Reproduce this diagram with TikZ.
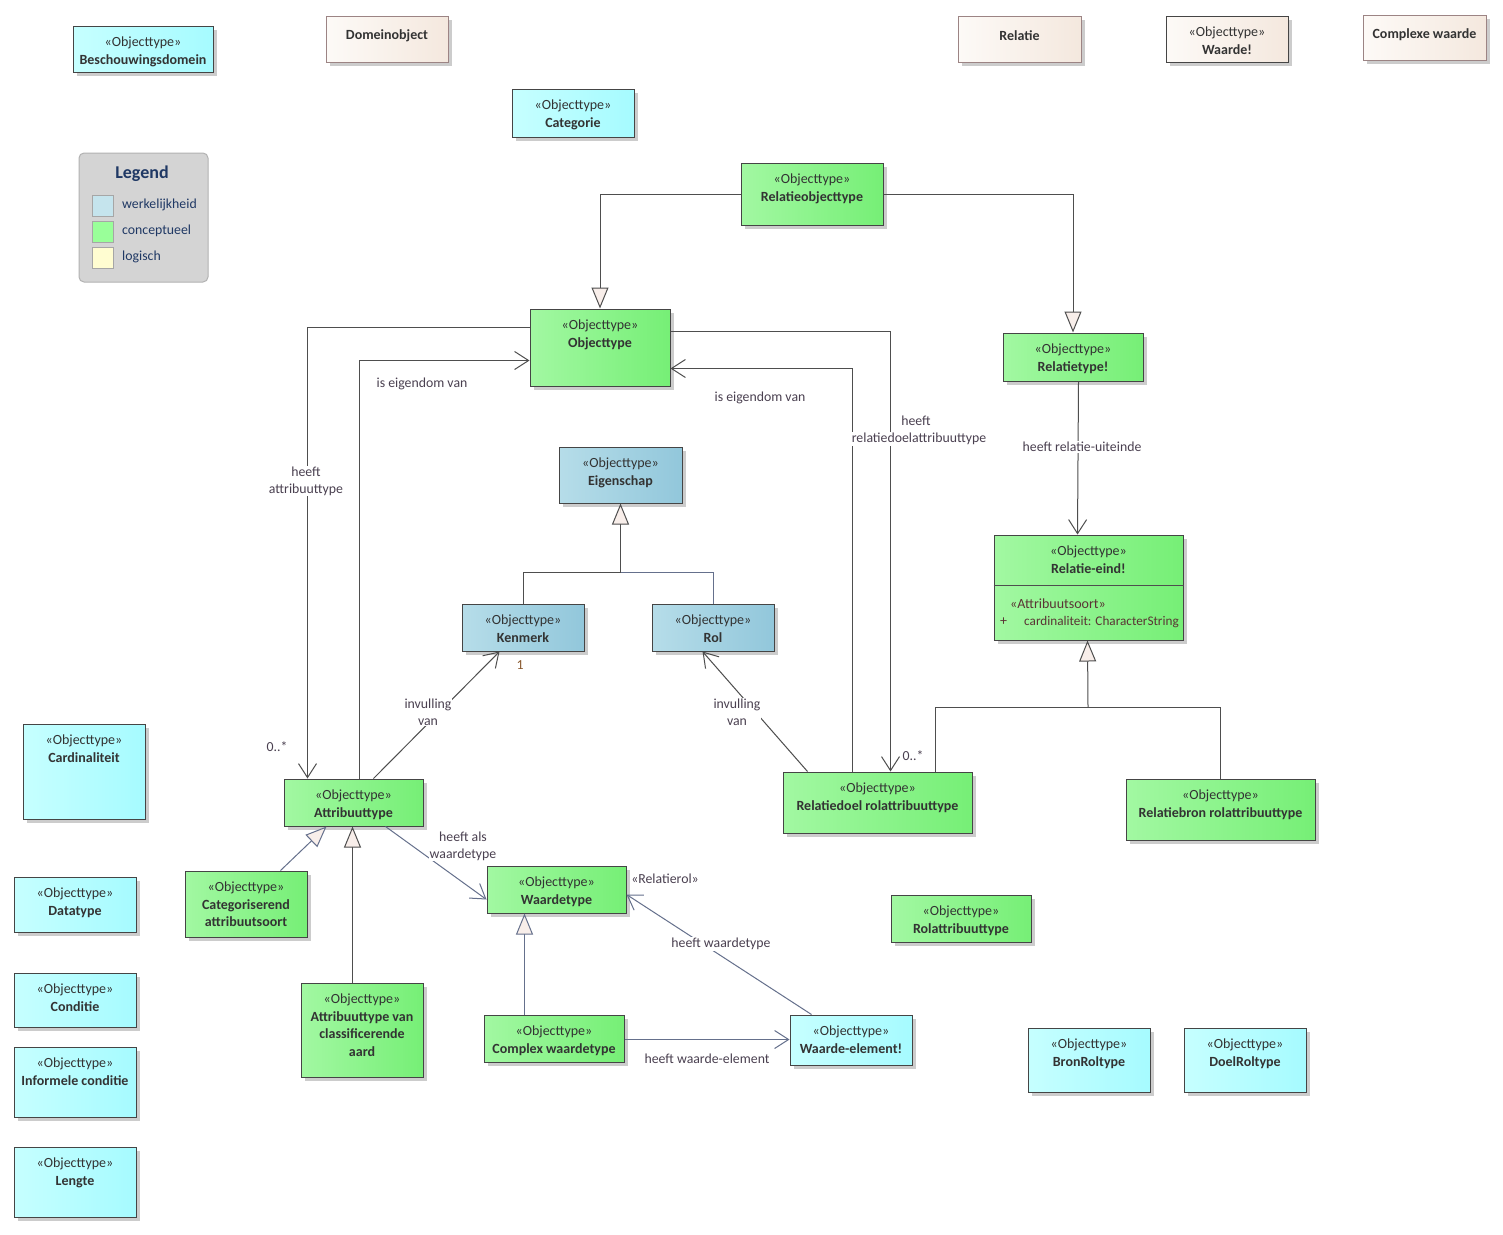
\documentclass[tikz,border=0pt]{standalone}
\usepackage{fontspec}
\setmainfont{Carlito}
\usetikzlibrary{arrows.meta,shadows}
\definecolor{gL}{HTML}{A2F8A2}
\definecolor{gR}{HTML}{76EF76}
\definecolor{cL}{HTML}{C6FFFF}
\definecolor{cR}{HTML}{A6FBFF}
\definecolor{bL}{HTML}{B6DDE9}
\definecolor{bR}{HTML}{92C7DB}
\definecolor{eL}{HTML}{FDFAF7}
\definecolor{eR}{HTML}{F4E8DE}
\definecolor{bord}{HTML}{454545}
\definecolor{ebord}{HTML}{9C8484}
\definecolor{txt}{HTML}{333333}
\definecolor{lbl}{HTML}{4A4050}
\definecolor{ln}{HTML}{4E4E4E}
\definecolor{lnb}{HTML}{65708C}
\definecolor{tri}{HTML}{F8EEEA}
\definecolor{navy}{HTML}{1F3864}
\definecolor{attc}{HTML}{5A3434}
\definecolor{mult}{HTML}{8A5A30}
\tikzset{
  box/.style={draw=bord, line width=1pt, inner sep=0pt,
    drop shadow={shadow xshift=4pt, shadow yshift=-4pt, fill=black!20, opacity=1}},
  gbox/.style={box, left color=gL, right color=gR},
  cbox/.style={box, left color=cL, right color=cR},
  bbox/.style={box, left color=bL, right color=bR},
  ebox/.style={box, draw=ebord, left color=eL, right color=eR},
  edbox/.style={box, left color=eL, right color=eR},
  txtn/.style={inner sep=0pt, align=center, text=txt, font=\fontsize{14}{17.5}\selectfont},
  lab/.style={inner sep=1pt, align=center, text=lbl, font=\fontsize{13.8}{17}\selectfont},
  labw/.style={lab, fill=white},
  ln/.style={draw=ln, line width=1pt},
  lnb/.style={draw=lnb, line width=1pt},
  gen/.style={ln, -{Triangle[length=21pt,width=17pt,fill=tri,line width=1pt]}},
  genb/.style={lnb, -{Triangle[length=21pt,width=17pt,fill=tri,line width=1pt]}},
  assoc/.style={ln, -{Straight Barb[length=14pt,width=18pt,line width=1pt]}},
  assocb/.style={lnb, -{Straight Barb[length=14pt,width=18pt,line width=1pt]}},
}
\newcommand\ubox[7]{%
  \node[#2, minimum width={#5-#3}, minimum height={#6-#4}] (#1) at ({(#3+#5)/2},{(#4+#6)/2}) {};
  \node[txtn, anchor=north] at ([yshift=-11.5pt]#1.north) {#7};
}
\newcommand\st{«Objecttype»\\}
\begin{document}
\begin{tikzpicture}[x=1pt,y=-1pt]
\useasboundingbox[fill=white] (0,0) rectangle (1503,1234);

% top row
\ubox{besch}{cbox}{73}{26}{213}{72}{\st\textbf{Beschouwingsdomein}}
\node[ebox, minimum width=122, minimum height=46] (domobj) at (387,39) {};
\node[txtn] at ([yshift=3pt]domobj.center) {\textbf{Domeinobject}};
\ubox{categ}{cbox}{512}{89}{634}{137}{\st\textbf{Categorie}}
\node[ebox, minimum width=123, minimum height=46] (relatie) at (1019.5,39) {};
\node[txtn] at ([yshift=3pt]relatie.center) {\textbf{Relatie}};
\ubox{waarde}{edbox}{1166}{16}{1288}{62}{\st\textbf{Waarde!}}
\node[ebox, minimum width=123, minimum height=45] (cwaarde) at (1424.5,37.5) {};
\node[txtn] at ([yshift=3pt]cwaarde.center) {\textbf{Complexe waarde}};

% legend
\node[draw=black!30, fill=black!17, rounded corners=5pt, line width=1pt,
      minimum width=129, minimum height=129] (legend) at (143.5,217.5) {};
\node[text=navy, font=\fontsize{18}{20}\selectfont\bfseries] (legt) at (142,174) {Legend};
\node[draw=black!35, fill=bL!80!white, minimum width=21, minimum height=21, line width=1pt] (sw1) at (103,205.5) {};
\node[draw=black!35, fill=green!40!white, minimum width=21, minimum height=21, line width=1pt] (sw2) at (103,231.5) {};
\node[draw=black!35, fill=yellow!18!white, minimum width=21, minimum height=21, line width=1pt] (sw3) at (103,257.5) {};
\node[anchor=west, text=navy, font=\fontsize{13.8}{15}\selectfont, inner sep=0pt] (lt1) at (122,205) {werkelijkheid};
\node[anchor=west, text=navy, font=\fontsize{13.8}{15}\selectfont, inner sep=0pt] (lt2) at (122,231) {conceptueel};
\node[anchor=west, text=navy, font=\fontsize{13.8}{15}\selectfont, inner sep=0pt] (lt3) at (122,257) {logisch};

% main boxes
\ubox{relobj}{gbox}{741}{163}{883}{225}{\st\textbf{Relatieobjecttype}}
\ubox{objtype}{gbox}{530}{309}{670}{386}{\st\textbf{Objecttype}}
\ubox{reltype}{gbox}{1003}{333}{1143}{381}{\st\textbf{Relatietype!}}
\ubox{eig}{bbox}{559}{447}{682}{503}{\st\textbf{Eigenschap}}
\ubox{releind}{gbox}{994}{535}{1183}{640}{\st\textbf{Relatie-eind!}}
\draw[ln, line width=1pt] (releind.west |- 0,585) -- (releind.east |- 0,585);
\node[txtn, text=attc, anchor=west] (atts) at (1010,604) {«Attribuutsoort»};
\node[txtn, text=attc, anchor=west] (attp) at (1000,622) {+};
\node[txtn, text=attc, anchor=west, font=\fontsize{13.2}{16}\selectfont] (attv) at (1024,622) {cardinaliteit: CharacterString};
\ubox{kenmerk}{bbox}{462}{604}{584}{651}{\st\textbf{Kenmerk}}
\ubox{rol}{bbox}{652}{604}{774}{651}{\st\textbf{Rol}}
\ubox{card}{cbox}{23}{724}{145}{819}{\st\textbf{Cardinaliteit}}
\ubox{attr}{gbox}{284}{779}{423}{826}{\st\textbf{Attribuuttype}}
\ubox{reldoel}{gbox}{783}{772}{972}{833}{\st\textbf{Relatiedoel rolattribuuttype}}
\ubox{relbron}{gbox}{1126}{779}{1315}{840}{\st\textbf{Relatiebron rolattribuuttype}}
\ubox{datat}{cbox}{14}{877}{136}{932}{\st\textbf{Datatype}}
\ubox{catattr}{gbox}{185}{871}{307}{937}{\st\textbf{Categoriserend}\\\textbf{attribuutsoort}}
\ubox{wtype}{gbox}{487}{866}{626}{913}{\st\textbf{Waardetype}}
\ubox{rolattr}{gbox}{891}{895}{1031}{942}{\st\textbf{Rolattribuuttype}}
\ubox{cond}{cbox}{14}{973}{136}{1027}{\st\textbf{Conditie}}
\ubox{attcls}{gbox}{301}{983}{423}{1077}{\st\textbf{Attribuuttype van}\\\textbf{classificerende}\\\textbf{aard}}
\ubox{cwt}{gbox}{484}{1015}{624}{1062}{\st\textbf{Complex waardetype}}
\ubox{welem}{cbox}{790}{1015}{912}{1065}{\st\textbf{Waarde-element!}}
\ubox{bron}{cbox}{1028}{1028}{1150}{1092}{\st\textbf{BronRoltype}}
\ubox{doel}{cbox}{1184}{1028}{1306}{1092}{\st\textbf{DoelRoltype}}
\ubox{infcond}{cbox}{14}{1047}{136}{1117}{\st\textbf{Informele conditie}}
\ubox{lengte}{cbox}{14}{1147}{136}{1217}{\st\textbf{Lengte}}

% connectors
\draw[gen] (relobj.west) -| (objtype.north);
\draw[gen] (relobj.east) -| (reltype.north);

\draw[assoc] ([yshift=-19pt]objtype.north west) -| ([xshift=24pt]attr.north west);
\node[labw] (l1) at (306,481) {heeft\\attribuuttype};
\node[lab] (m1) at (277,747) {0..*};

\draw[assoc] ([xshift=76pt]attr.north west) |- ([yshift=-52pt]objtype.north west);
\node[lab] (l2) at (422,384) {is eigendom van};

\draw[assoc] ([yshift=-23pt]objtype.north east) -| ([xshift=108pt]reldoel.north west);
\draw[assoc] ([xshift=70pt]reldoel.north west) |- ([yshift=-60pt]objtype.north east);
\node[lab] (l3a) at (916,421) {heeft};
\node[labw] (l3b) at (919,439) {relatiedoelattribuuttype};
\node[lab] (m2) at (913,756) {0..*};
\node[lab] (l4) at (760,398) {is eigendom van};

\draw[assoc] ([xshift=-65pt]reltype.south east) -- ([xshift=84pt]releind.north west);
\node[labw] (l5) at (1082,447) {heeft relatie-uiteinde};

\coordinate (ej) at (620.5,572);
\draw[ln] (kenmerk.north) |- (ej);
\draw[lnb] (rol.north) |- (ej);
\draw[gen] (ej) -- (eig.south);

\draw[assoc] ([xshift=90pt]attr.north west) -- ([xshift=38pt]kenmerk.south west);
\node[labw] (l6) at (428,712) {invulling\\van};
\node[lab, text=mult] (m3) at (520,665) {1};

\draw[assoc] ([xshift=25pt]reldoel.north west) -- ([xshift=51pt]rol.south west);
\node[labw] (l7) at (737,712) {invulling\\van};

\coordinate (rj) at (1088,707);
\draw[ln] ([xshift=153pt]reldoel.north west) |- (rj);
\draw[ln] (relbron.north) |- (rj);
\draw[gen] (rj) -- ([xshift=94pt]releind.south west);

\draw[genb] ([xshift=96pt]catattr.north west) -- ([xshift=43pt]attr.south west);
\draw[gen] ([xshift=52pt]attcls.north west) -- ([xshift=69pt]attr.south west);

\draw[assocb] ([xshift=102pt]attr.south west) -- ([yshift=-34pt]wtype.north west);
\node[labw] (l8) at (463,846) {heeft als\\waardetype};

\draw[genb] ([xshift=41pt]cwt.north west) -- ([xshift=38pt]wtype.south west);

\draw[assocb] ([xshift=22pt]welem.north west) -- ([yshift=-29pt]wtype.north east);
\node[labw] (l9) at (721,944) {heeft waardetype};
\node[lab] (r1) at (665,879) {«Relatierol»};

\draw[assocb] ([yshift=-25pt]cwt.north east) -- ([yshift=-25pt]welem.north west);
\node[lab] (l10) at (707,1059) {heeft waarde-element};
\end{tikzpicture}
\end{document}
